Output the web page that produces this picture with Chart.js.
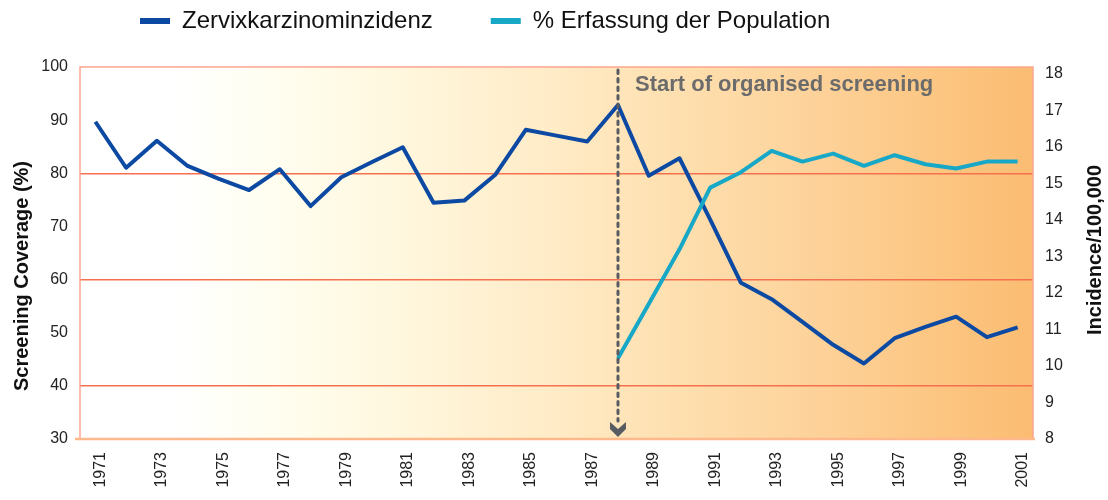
<!DOCTYPE html>
<html><head><meta charset="utf-8">
<script src="https://cdn.jsdelivr.net/npm/chart.js@4/dist/chart.umd.min.js"></script>
<style>html,body{margin:0;padding:0;background:#fff}</style>
</head><body>
<canvas id="c" width="1108" height="500"></canvas>
<script>
const years = ['1971','1972','1973','1974','1975','1976','1977','1978','1979','1980','1981','1982','1983','1984','1985','1986','1987','1988','1989','1990','1991','1992','1993','1994','1995','1996','1997','1998','1999','2000','2001'];
const incidence = [16.69,15.43,16.17,15.48,15.13,14.82,15.39,14.38,15.17,15.59,15.99,14.47,14.53,15.23,16.47,16.31,16.15,17.15,15.21,15.69,14.01,12.28,11.83,11.21,10.58,10.07,10.76,11.07,11.35,10.79,11.06];
const coverage = [null,null,null,null,null,null,null,null,null,null,null,null,null,null,null,null,null,45.2,55.4,65.7,77.3,80.2,84.2,82.2,83.7,81.4,83.4,81.7,80.9,82.2,82.2];
const seriesNames = ['Zervixkarzinominzidenz','% Erfassung der Population'];
const leftTitle = 'Screening Coverage (%)';
const rightTitle = 'Incidence/100,000';
const annotationText = 'Start of organised screening';
const annotationYear = '1988';
const redGridValues = [40,60,80];
const rightTickValues = [8,9,10,11,12,13,14,15,16,17,18];

const FONT = '"Liberation Sans", Arial, Helvetica, sans-serif';
Chart.defaults.font.family = FONT;

const decor = {
  id:'decor',
  beforeLayout(chart){
    const lg = chart.legend;
    if (lg && !lg._patched){
      const f = lg.fit.bind(lg);
      lg.fit = function(){ f(); this.height = 67; };
      lg._patched = true;
    }
  },
  afterLayout(chart){
    const lg = chart.legend;
    const p = lg.options.labels.padding;
    lg.left = 140 - p;
    lg.top = 9 - p;
  },
  beforeDraw(chart){
    const {ctx, chartArea:a} = chart;
    const g = ctx.createLinearGradient(a.left,0,a.right,0);
    g.addColorStop(0,'#ffffff');
    g.addColorStop(0.1,'#ffffff');
    g.addColorStop(0.2,'#fffef0');
    g.addColorStop(0.32,'#fff8e0');
    g.addColorStop(0.5,'#ffebc6');
    g.addColorStop(0.62,'#fee0b0');
    g.addColorStop(0.77,'#fdd29a');
    g.addColorStop(0.9,'#fcc682');
    g.addColorStop(1,'#fbbc72');
    ctx.save();
    ctx.fillStyle = g;
    ctx.fillRect(a.left, a.top, a.right-a.left, a.bottom-a.top);
    ctx.restore();
  },
  afterDraw(chart){
    const {ctx, chartArea:a} = chart;
    ctx.save();
    // frame
    ctx.strokeStyle = '#fca590';
    ctx.lineWidth = 1.5;
    ctx.beginPath();
    ctx.moveTo(a.left, a.bottom); ctx.lineTo(a.left, a.top); ctx.lineTo(a.right, a.top); ctx.lineTo(a.right, a.bottom);
    ctx.stroke();
    ctx.strokeStyle = '#fdb88c';
    ctx.lineWidth = 2.5;
    ctx.beginPath(); ctx.moveTo(a.left-5, a.bottom); ctx.lineTo(a.right+2, a.bottom); ctx.stroke();
    // dashed marker
    const x = chart.scales.x.getPixelForValue(years.indexOf(annotationYear));
    ctx.strokeStyle = '#585c62';
    ctx.lineWidth = 3;
    ctx.lineCap = 'round';
    ctx.setLineDash([3.5,5]);
    ctx.beginPath(); ctx.moveTo(x, a.top+3); ctx.lineTo(x, a.bottom-18); ctx.stroke();
    ctx.setLineDash([]);
    ctx.fillStyle = '#585c62';
    ctx.beginPath();
    ctx.moveTo(x-8, a.bottom-17);
    ctx.lineTo(x, a.bottom-10);
    ctx.lineTo(x+8, a.bottom-17);
    ctx.lineTo(x+8, a.bottom-10);
    ctx.lineTo(x, a.bottom-2);
    ctx.lineTo(x-8, a.bottom-10);
    ctx.closePath();
    ctx.fill();
    // annotation
    ctx.fillStyle = '#6b6b6b';
    ctx.font = 'bold 22px ' + FONT;
    ctx.textAlign = 'left';
    ctx.textBaseline = 'alphabetic';
    ctx.fillText(annotationText, x+17, a.top+24);
    // axis titles
    ctx.fillStyle = '#111';
    ctx.font = 'bold 20px ' + FONT;
    ctx.textAlign = 'center';
    ctx.textBaseline = 'middle';
    ctx.save(); ctx.translate(22, 276); ctx.rotate(-Math.PI/2); ctx.fillText(leftTitle, 0, 0); ctx.restore();
    ctx.save(); ctx.translate(1095, 250); ctx.rotate(-Math.PI/2); ctx.fillText(rightTitle, 0, 0); ctx.restore();
    ctx.restore();
  }
};

const tickFont = {size:16, family:FONT};
new Chart(document.getElementById('c'), {
  type:'line',
  data:{
    labels: years,
    datasets:[
      {label:seriesNames[0], data:incidence, yAxisID:'y1', borderColor:'#0b49a3', backgroundColor:'#0b49a3', borderWidth:4, pointRadius:0, tension:0, borderJoinStyle:'round', order:2},
      {label:seriesNames[1], data:coverage, yAxisID:'y', borderColor:'#17a8c8', backgroundColor:'#17a8c8', borderWidth:4, pointRadius:0, tension:0, borderJoinStyle:'round', spanGaps:false, order:1}
    ]
  },
  options:{
    responsive:false,
    animation:false,
    layout:{padding:0},
    plugins:{
      legend:{
        align:'start',
        labels:{
          boxWidth:30, boxHeight:6, padding:58, color:'#111', font:{size:24, family:FONT},
          generateLabels: chart => chart.data.datasets.map((d,i)=>({text:d.label, fillStyle:d.borderColor, strokeStyle:d.borderColor, lineWidth:0, hidden:false, datasetIndex:i, fontColor:'#111'}))
        }
      },
      tooltip:{enabled:false}
    },
    scales:{
      x:{
        type:'category', offset:true,
        grid:{display:false, drawTicks:false}, border:{display:false},
        ticks:{autoSkip:false, minRotation:90, maxRotation:90, padding:13, labelOffset:5, color:'#222', font:tickFont,
          callback:(v,i)=> i%2===0 ? years[i] : ''},
        afterFit:s=>{ s.height = 61; }
      },
      y:{
        position:'left', min:30, max:100,
        ticks:{stepSize:10, padding:12, color:'#222', font:tickFont},
        grid:{drawTicks:false, lineWidth:1.5, color:ctx=> redGridValues.includes(ctx.tick && ctx.tick.value) ? '#f5704f' : 'rgba(0,0,0,0)'},
        border:{display:false},
        afterFit:s=>{ s.width = 80; }
      },
      y1:{
        position:'right', min:8, max:18.19,
        afterBuildTicks:s=>{ s.ticks = rightTickValues.map(v=>({value:v})); },
        ticks:{padding:12, color:'#222', font:tickFont},
        grid:{display:false, drawTicks:false}, border:{display:false},
        afterFit:s=>{ s.width = 75; }
      }
    }
  },
  plugins:[decor]
});
</script>
</body></html>
